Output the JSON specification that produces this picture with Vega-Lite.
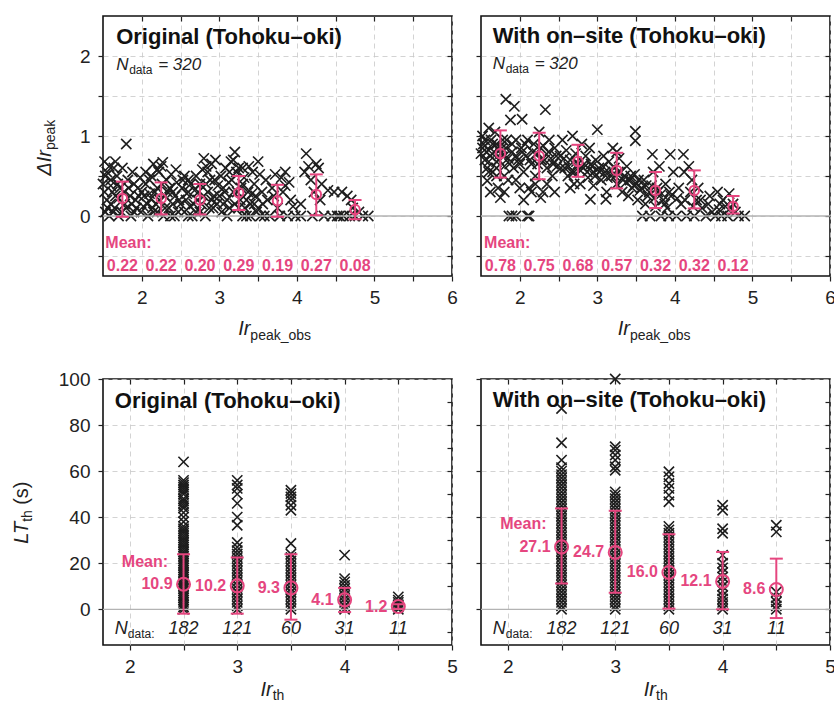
{
"$schema": "https://vega.github.io/schema/vega-lite/v6.json",
"padding": {"left": 11, "top": 14, "right": 0, "bottom": 0},
"bounds": "flush",
"columns": 2,
"spacing": {"row": 103, "column": 29},
"datasets": {
"tl_pts": [
{"x":1.52,"y":0.68},{"x":1.55,"y":0.55},{"x":1.58,"y":0.62},{"x":1.6,"y":0.45},{"x":1.62,"y":0.3},{"x":1.55,"y":0.2},{"x":1.65,"y":0.1},{"x":1.53,"y":0.05},{"x":1.58,"y":0.0},{"x":1.7,"y":0.0},{"x":1.68,"y":0.5},{"x":1.72,"y":0.35},{"x":1.75,"y":0.6},{"x":1.8,"y":0.9},{"x":1.82,"y":0.45},{"x":1.85,"y":0.25},{"x":1.78,"y":0.15},{"x":1.88,"y":0.55},{"x":1.9,"y":0.05},{"x":1.95,"y":0.35},{"x":1.92,"y":0.2},{"x":1.98,"y":0.48},{"x":1.6,"y":0.38},{"x":1.7,"y":0.22},{"x":1.86,"y":0.0},{"x":1.52,"y":0.3},{"x":1.64,"y":0.6},
{"x":2.02,"y":0.12},{"x":2.05,"y":0.4},{"x":2.08,"y":0.0},{"x":2.1,"y":0.28},{"x":2.12,"y":0.5},{"x":2.15,"y":0.65},{"x":2.18,"y":0.15},{"x":2.2,"y":0.35},{"x":2.22,"y":0.55},{"x":2.25,"y":0.62},{"x":2.28,"y":0.0},{"x":2.3,"y":0.25},{"x":2.32,"y":0.45},{"x":2.35,"y":0.1},{"x":2.38,"y":0.52},{"x":2.4,"y":0.3},{"x":2.42,"y":0.0},{"x":2.45,"y":0.42},{"x":2.48,"y":0.2},{"x":2.05,"y":0.55},{"x":2.27,"y":0.67},{"x":2.15,"y":0.05},{"x":2.36,"y":0.35},{"x":2.44,"y":0.58},{"x":2.12,"y":0.22},
{"x":2.52,"y":0.35},{"x":2.55,"y":0.05},{"x":2.58,"y":0.28},{"x":2.6,"y":0.45},{"x":2.62,"y":0.12},{"x":2.65,"y":0.0},{"x":2.68,"y":0.32},{"x":2.7,"y":0.5},{"x":2.72,"y":0.2},{"x":2.75,"y":0.4},{"x":2.78,"y":0.58},{"x":2.8,"y":0.72},{"x":2.82,"y":0.0},{"x":2.85,"y":0.3},{"x":2.88,"y":0.45},{"x":2.9,"y":0.65},{"x":2.92,"y":0.1},{"x":2.95,"y":0.7},{"x":2.98,"y":0.38},{"x":2.6,"y":0.0},{"x":2.75,"y":0.05},{"x":2.55,"y":0.5},{"x":2.85,"y":0.55},{"x":2.93,"y":0.25},
{"x":3.02,"y":0.5},{"x":3.05,"y":0.15},{"x":3.08,"y":0.6},{"x":3.1,"y":0.0},{"x":3.12,"y":0.42},{"x":3.15,"y":0.68},{"x":3.18,"y":0.3},{"x":3.2,"y":0.8},{"x":3.22,"y":0.55},{"x":3.25,"y":0.1},{"x":3.28,"y":0.35},{"x":3.3,"y":0.0},{"x":3.32,"y":0.48},{"x":3.35,"y":0.2},{"x":3.38,"y":0.62},{"x":3.4,"y":0.0},{"x":3.42,"y":0.28},{"x":3.45,"y":0.4},{"x":3.48,"y":0.05},{"x":3.5,"y":0.68},{"x":3.52,"y":0.52},{"x":3.55,"y":0.3},{"x":3.18,"y":0.7},{"x":3.25,"y":0.6},{"x":3.35,"y":0.0},{"x":3.45,"y":0.15},{"x":3.05,"y":0.35},
{"x":3.58,"y":0.0},{"x":3.6,"y":0.45},{"x":3.62,"y":0.2},{"x":3.65,"y":0.0},{"x":3.68,"y":0.35},{"x":3.72,"y":0.52},{"x":3.75,"y":0.1},{"x":3.78,"y":0.0},{"x":3.8,"y":0.48},{"x":3.82,"y":0.3},{"x":3.85,"y":0.55},{"x":3.88,"y":0.0},{"x":3.9,"y":0.42},{"x":3.92,"y":0.2},{"x":3.95,"y":0.12},{"x":3.98,"y":0.0},{"x":3.7,"y":0.25},{"x":3.85,"y":0.38},
{"x":4.05,"y":0.0},{"x":4.1,"y":0.55},{"x":4.12,"y":0.78},{"x":4.15,"y":0.62},{"x":4.18,"y":0.45},{"x":4.2,"y":0.0},{"x":4.22,"y":0.3},{"x":4.25,"y":0.65},{"x":4.28,"y":0.6},{"x":4.3,"y":0.2},{"x":4.32,"y":0.4},{"x":4.35,"y":0.0},{"x":4.4,"y":0.32},{"x":4.45,"y":0.0},{"x":4.48,"y":0.3},{"x":4.05,"y":0.15},
{"x":4.52,"y":0.0},{"x":4.55,"y":0.0},{"x":4.58,"y":0.3},{"x":4.6,"y":0.0},{"x":4.65,"y":0.25},{"x":4.68,"y":0.0},{"x":4.72,"y":0.1},{"x":4.75,"y":0.0},{"x":4.8,"y":0.05},{"x":4.85,"y":0.0},{"x":4.92,"y":0.0},{"x":4.7,"y":0.2},
{"x":1.5,"y":0.4},{"x":1.56,"y":0.1},{"x":1.6,"y":0.15},{"x":1.63,"y":0.05},{"x":1.66,"y":0.25},{"x":1.69,"y":0.4},{"x":1.74,"y":0.05},{"x":1.77,"y":0.3},{"x":1.8,"y":0.1},{"x":1.83,"y":0.35},{"x":1.87,"y":0.15},{"x":1.9,"y":0.4},{"x":1.93,"y":0.1},{"x":1.96,"y":0.25},{"x":1.99,"y":0.05},{"x":2.0,"y":0.3},{"x":2.03,"y":0.25},{"x":2.07,"y":0.15},{"x":2.1,"y":0.45},{"x":2.14,"y":0.1},{"x":2.17,"y":0.3},{"x":2.2,"y":0.05},{"x":2.23,"y":0.2},{"x":2.26,"y":0.4},{"x":2.3,"y":0.1},{"x":2.33,"y":0.3},{"x":2.37,"y":0.0},{"x":2.4,"y":0.15},{"x":2.43,"y":0.25},{"x":2.47,"y":0.05},{"x":2.5,"y":0.15},{"x":2.53,"y":0.45},{"x":2.57,"y":0.2},{"x":2.6,"y":0.3},{"x":2.63,"y":0.4},{"x":2.67,"y":0.15},{"x":2.7,"y":0.05},{"x":2.73,"y":0.3},{"x":2.77,"y":0.15},{"x":2.8,"y":0.25},{"x":2.83,"y":0.4},{"x":2.87,"y":0.1},{"x":2.9,"y":0.2},{"x":2.94,"y":0.45},{"x":2.97,"y":0.15},{"x":3.0,"y":0.25},{"x":3.03,"y":0.05},{"x":3.07,"y":0.3},{"x":3.1,"y":0.2},{"x":3.13,"y":0.1},{"x":3.16,"y":0.45},{"x":3.2,"y":0.15},{"x":3.23,"y":0.3},{"x":3.27,"y":0.2},{"x":3.3,"y":0.4},{"x":3.33,"y":0.1},{"x":3.37,"y":0.3},{"x":3.4,"y":0.15},{"x":3.43,"y":0.55},{"x":3.47,"y":0.25},{"x":3.5,"y":0.1},{"x":3.53,"y":0.0},{"x":3.56,"y":0.15},{"x":3.3,"y":0.6},{"x":3.13,"y":0.55},{"x":2.83,"y":0.62},{"x":2.2,"y":0.58},{"x":1.53,"y":0.5},{"x":1.66,"y":0.68}
],
"tr_pts": [
{"x":1.52,"y":1.0},{"x":1.52,"y":0.85},{"x":1.55,"y":0.7},{"x":1.55,"y":0.95},{"x":1.58,"y":0.6},{"x":1.58,"y":0.44},{"x":1.6,"y":0.82},{"x":1.6,"y":1.1},{"x":1.62,"y":0.75},{"x":1.65,"y":0.9},{"x":1.65,"y":0.55},{"x":1.68,"y":1.05},{"x":1.7,"y":0.68},{"x":1.72,"y":0.85},{"x":1.72,"y":0.35},{"x":1.75,"y":0.23},{"x":1.75,"y":0.78},{"x":1.78,"y":0.95},{"x":1.8,"y":0.62},{"x":1.82,"y":1.46},{"x":1.82,"y":0.85},{"x":1.85,"y":0.72},{"x":1.85,"y":0.45},{"x":1.88,"y":1.2},{"x":1.9,"y":0.8},{"x":1.9,"y":0.0},{"x":1.92,"y":0.6},{"x":1.93,"y":1.37},{"x":1.95,"y":0.95},{"x":1.95,"y":0.0},{"x":1.98,"y":0.7},{"x":1.86,"y":0.0},{"x":1.7,"y":0.5},{"x":1.62,"y":0.3},{"x":1.8,"y":0.3},
{"x":2.02,"y":0.85},{"x":2.03,"y":1.21},{"x":2.05,"y":0.55},{"x":2.08,"y":0.75},{"x":2.1,"y":0.0},{"x":2.1,"y":0.95},{"x":2.12,"y":0.35},{"x":2.12,"y":0.0},{"x":2.15,"y":0.65},{"x":2.18,"y":0.9},{"x":2.2,"y":0.5},{"x":2.22,"y":0.78},{"x":2.25,"y":1.05},{"x":2.27,"y":0.23},{"x":2.28,"y":0.7},{"x":2.3,"y":0.88},{"x":2.33,"y":1.33},{"x":2.35,"y":0.6},{"x":2.38,"y":0.95},{"x":2.4,"y":0.72},{"x":2.42,"y":0.5},{"x":2.45,"y":0.85},{"x":2.48,"y":0.62},{"x":2.15,"y":0.3},{"x":2.05,"y":0.2},{"x":2.35,"y":0.4},
{"x":2.52,"y":0.75},{"x":2.55,"y":0.95},{"x":2.58,"y":0.6},{"x":2.6,"y":0.82},{"x":2.62,"y":0.5},{"x":2.65,"y":0.7},{"x":2.68,"y":1.0},{"x":2.7,"y":0.55},{"x":2.72,"y":0.78},{"x":2.75,"y":0.65},{"x":2.78,"y":0.4},{"x":2.8,"y":0.9},{"x":2.82,"y":0.6},{"x":2.85,"y":0.75},{"x":2.88,"y":0.48},{"x":2.9,"y":0.85},{"x":2.91,"y":0.21},{"x":2.92,"y":0.65},{"x":2.95,"y":0.55},{"x":2.98,"y":0.7},{"x":3.0,"y":1.08},{"x":2.65,"y":0.35},{"x":2.7,"y":0.4},{"x":2.95,"y":0.38},
{"x":3.02,"y":0.6},{"x":3.05,"y":0.45},{"x":3.08,"y":0.75},{"x":3.1,"y":0.55},{"x":3.11,"y":0.21},{"x":3.12,"y":0.3},{"x":3.15,"y":0.68},{"x":3.18,"y":0.5},{"x":3.2,"y":0.85},{"x":3.22,"y":0.6},{"x":3.25,"y":0.4},{"x":3.28,"y":0.72},{"x":3.3,"y":0.55},{"x":3.32,"y":0.3},{"x":3.35,"y":0.5},{"x":3.38,"y":0.62},{"x":3.4,"y":0.25},{"x":3.42,"y":0.45},{"x":3.45,"y":0.35},{"x":3.48,"y":0.52},{"x":3.49,"y":1.06},{"x":3.49,"y":0.94},{"x":3.5,"y":0.4},{"x":3.25,"y":0.8},
{"x":3.52,"y":0.2},{"x":3.55,"y":0.32},{"x":3.58,"y":0.0},{"x":3.6,"y":0.45},{"x":3.62,"y":0.15},{"x":3.65,"y":0.25},{"x":3.68,"y":0.0},{"x":3.7,"y":0.38},{"x":3.71,"y":0.77},{"x":3.72,"y":0.55},{"x":3.75,"y":0.12},{"x":3.78,"y":0.3},{"x":3.8,"y":0.62},{"x":3.82,"y":0.0},{"x":3.85,"y":0.2},{"x":3.88,"y":0.4},{"x":3.9,"y":0.1},{"x":3.92,"y":0.0},{"x":3.94,"y":0.77},{"x":3.95,"y":0.25},{"x":3.98,"y":0.55},
{"x":4.02,"y":0.0},{"x":4.05,"y":0.35},{"x":4.08,"y":0.15},{"x":4.11,"y":0.77},{"x":4.12,"y":0.55},{"x":4.15,"y":0.0},{"x":4.18,"y":0.62},{"x":4.2,"y":0.3},{"x":4.22,"y":0.45},{"x":4.25,"y":0.0},{"x":4.28,"y":0.2},{"x":4.3,"y":0.35},{"x":4.35,"y":0.1},{"x":4.4,"y":0.0},{"x":4.45,"y":0.25},{"x":4.48,"y":0.05},
{"x":4.52,"y":0.0},{"x":4.55,"y":0.3},{"x":4.58,"y":0.15},{"x":4.6,"y":0.0},{"x":4.62,"y":0.2},{"x":4.68,"y":0.0},{"x":4.7,"y":0.28},{"x":4.72,"y":0.1},{"x":4.78,"y":0.05},{"x":4.82,"y":0.0},{"x":4.9,"y":0.0},{"x":4.65,"y":0.12},
{"x":1.5,"y":0.78},{"x":1.53,"y":0.9},{"x":1.57,"y":0.8},{"x":1.6,"y":0.68},{"x":1.63,"y":0.95},{"x":1.67,"y":0.8},{"x":1.7,"y":0.9},{"x":1.73,"y":0.7},{"x":1.77,"y":0.85},{"x":1.8,"y":0.75},{"x":1.83,"y":0.95},{"x":1.87,"y":0.65},{"x":1.9,"y":0.9},{"x":1.95,"y":0.75},{"x":2.0,"y":0.65},{"x":2.03,"y":0.8},{"x":2.07,"y":0.9},{"x":2.13,"y":0.7},{"x":2.17,"y":0.8},{"x":2.23,"y":0.65},{"x":2.27,"y":0.85},{"x":2.32,"y":0.7},{"x":2.37,"y":0.8},{"x":2.43,"y":0.65},{"x":2.47,"y":0.75},{"x":2.53,"y":0.6},{"x":2.57,"y":0.72},{"x":2.63,"y":0.62},{"x":2.67,"y":0.55},{"x":2.73,"y":0.68},{"x":2.77,"y":0.58},{"x":2.83,"y":0.65},{"x":2.87,"y":0.55},{"x":2.93,"y":0.62},{"x":2.97,"y":0.5},{"x":3.03,"y":0.55},{"x":3.07,"y":0.62},{"x":3.13,"y":0.48},{"x":3.17,"y":0.58},{"x":3.23,"y":0.5},{"x":3.27,"y":0.55},{"x":3.33,"y":0.45},{"x":3.37,"y":0.42},{"x":3.43,"y":0.5},{"x":3.47,"y":0.38},{"x":3.53,"y":0.45},{"x":3.57,"y":0.35},{"x":3.63,"y":0.38},{"x":3.67,"y":0.3},{"x":3.73,"y":0.22},{"x":3.77,"y":0.35},{"x":3.83,"y":0.28},{"x":3.87,"y":0.15},{"x":3.93,"y":0.3},{"x":4.03,"y":0.22},{"x":4.13,"y":0.2},{"x":4.23,"y":0.12},{"x":4.33,"y":0.2},{"x":4.43,"y":0.15},{"x":4.57,"y":0.08},{"x":4.75,"y":0.15},
{"x":1.6,"y":0.55},{"x":1.7,"y":0.6},{"x":1.8,"y":0.5},{"x":1.95,"y":0.45},{"x":2.0,"y":0.35},{"x":2.2,"y":0.4},{"x":2.3,"y":0.3},{"x":2.45,"y":0.3}
],
"bl_pts": [
{"x":2.5,"y":0},{"x":2.5,"y":1},{"x":2.5,"y":2},{"x":2.5,"y":3},{"x":2.5,"y":4},{"x":2.5,"y":5},{"x":2.5,"y":6},{"x":2.5,"y":7},{"x":2.5,"y":8},{"x":2.5,"y":9},{"x":2.5,"y":10},{"x":2.5,"y":11},{"x":2.5,"y":12},{"x":2.5,"y":13},{"x":2.5,"y":14},{"x":2.5,"y":15},{"x":2.5,"y":16},{"x":2.5,"y":17},{"x":2.5,"y":18},{"x":2.5,"y":19},{"x":2.5,"y":20},{"x":2.5,"y":21},{"x":2.5,"y":22},{"x":2.5,"y":23},{"x":2.5,"y":24},{"x":2.5,"y":25},{"x":2.5,"y":26},{"x":2.5,"y":27},{"x":2.5,"y":28},{"x":2.5,"y":29},{"x":2.5,"y":30},{"x":2.5,"y":31},{"x":2.5,"y":32},{"x":2.5,"y":33},{"x":2.5,"y":34},{"x":2.5,"y":35},{"x":2.5,"y":36},{"x":2.5,"y":38},{"x":2.5,"y":40},{"x":2.5,"y":42},{"x":2.5,"y":44},{"x":2.5,"y":45},{"x":2.5,"y":46},{"x":2.5,"y":47},{"x":2.5,"y":48},{"x":2.5,"y":50},{"x":2.5,"y":51},{"x":2.5,"y":52},{"x":2.5,"y":53},{"x":2.5,"y":54},{"x":2.5,"y":55},{"x":2.5,"y":56},{"x":2.5,"y":64},
{"x":3,"y":0},{"x":3,"y":1.5},{"x":3,"y":3},{"x":3,"y":4.5},{"x":3,"y":6},{"x":3,"y":7.5},{"x":3,"y":9},{"x":3,"y":10.5},{"x":3,"y":12},{"x":3,"y":13.5},{"x":3,"y":15},{"x":3,"y":16.5},{"x":3,"y":18},{"x":3,"y":19.5},{"x":3,"y":21},{"x":3,"y":22.5},{"x":3,"y":24},{"x":3,"y":25.5},{"x":3,"y":27},{"x":3,"y":29},{"x":3,"y":36.5},{"x":3,"y":40},{"x":3,"y":46},{"x":3,"y":50},{"x":3,"y":52.5},{"x":3,"y":54},{"x":3,"y":56},
{"x":3.5,"y":0},{"x":3.5,"y":1.5},{"x":3.5,"y":3},{"x":3.5,"y":4.5},{"x":3.5,"y":6},{"x":3.5,"y":7.5},{"x":3.5,"y":9},{"x":3.5,"y":10.5},{"x":3.5,"y":12},{"x":3.5,"y":13.5},{"x":3.5,"y":15},{"x":3.5,"y":16.5},{"x":3.5,"y":18},{"x":3.5,"y":19.5},{"x":3.5,"y":21},{"x":3.5,"y":22.5},{"x":3.5,"y":24},{"x":3.5,"y":28.6},{"x":3.5,"y":43},{"x":3.5,"y":45.2},{"x":3.5,"y":47.4},{"x":3.5,"y":48.8},{"x":3.5,"y":50.3},{"x":3.5,"y":51.7},
{"x":4,"y":0},{"x":4,"y":1.5},{"x":4,"y":3},{"x":4,"y":4.5},{"x":4,"y":6},{"x":4,"y":7.5},{"x":4,"y":9},{"x":4,"y":10.4},{"x":4,"y":11.9},{"x":4,"y":13.3},{"x":4,"y":23.5},
{"x":4.5,"y":0},{"x":4.5,"y":1},{"x":4.5,"y":2},{"x":4.5,"y":3},{"x":4.5,"y":4},{"x":4.5,"y":5.4}
],
"br_pts": [
{"x":2.5,"y":0},{"x":2.5,"y":1.5},{"x":2.5,"y":3},{"x":2.5,"y":4.5},{"x":2.5,"y":6},{"x":2.5,"y":7.5},{"x":2.5,"y":9},{"x":2.5,"y":10.5},{"x":2.5,"y":12},{"x":2.5,"y":13.5},{"x":2.5,"y":15},{"x":2.5,"y":16.5},{"x":2.5,"y":18},{"x":2.5,"y":19.5},{"x":2.5,"y":21},{"x":2.5,"y":22.5},{"x":2.5,"y":24},{"x":2.5,"y":25.5},{"x":2.5,"y":27},{"x":2.5,"y":28.5},{"x":2.5,"y":30},{"x":2.5,"y":31.5},{"x":2.5,"y":33},{"x":2.5,"y":34.5},{"x":2.5,"y":36},{"x":2.5,"y":37.5},{"x":2.5,"y":39},{"x":2.5,"y":40.5},{"x":2.5,"y":42},{"x":2.5,"y":43.5},{"x":2.5,"y":45},{"x":2.5,"y":46.5},{"x":2.5,"y":48},{"x":2.5,"y":49.5},{"x":2.5,"y":51},{"x":2.5,"y":52.5},{"x":2.5,"y":54},{"x":2.5,"y":55.5},{"x":2.5,"y":57},{"x":2.5,"y":58.5},{"x":2.5,"y":60},{"x":2.5,"y":61.5},{"x":2.5,"y":64.8},{"x":2.5,"y":72.3},{"x":2.5,"y":87.2},
{"x":3,"y":0},{"x":3,"y":1.5},{"x":3,"y":3},{"x":3,"y":4.5},{"x":3,"y":6},{"x":3,"y":7.5},{"x":3,"y":9},{"x":3,"y":10.5},{"x":3,"y":12},{"x":3,"y":13.5},{"x":3,"y":15},{"x":3,"y":16.5},{"x":3,"y":18},{"x":3,"y":19.5},{"x":3,"y":21},{"x":3,"y":22.5},{"x":3,"y":24},{"x":3,"y":25.5},{"x":3,"y":27},{"x":3,"y":28.5},{"x":3,"y":30},{"x":3,"y":31.5},{"x":3,"y":33},{"x":3,"y":34.5},{"x":3,"y":36},{"x":3,"y":37.5},{"x":3,"y":39},{"x":3,"y":40.5},{"x":3,"y":42},{"x":3,"y":43.5},{"x":3,"y":45},{"x":3,"y":46.5},{"x":3,"y":48},{"x":3,"y":49.5},{"x":3,"y":51},{"x":3,"y":60.4},{"x":3,"y":61.9},{"x":3,"y":64.8},{"x":3,"y":67},{"x":3,"y":69.1},{"x":3,"y":70.6},{"x":3,"y":100},
{"x":3.5,"y":0},{"x":3.5,"y":1.5},{"x":3.5,"y":3},{"x":3.5,"y":4.5},{"x":3.5,"y":6},{"x":3.5,"y":7.5},{"x":3.5,"y":9},{"x":3.5,"y":10.5},{"x":3.5,"y":12},{"x":3.5,"y":13.5},{"x":3.5,"y":15},{"x":3.5,"y":16.5},{"x":3.5,"y":18},{"x":3.5,"y":19.5},{"x":3.5,"y":21},{"x":3.5,"y":22.5},{"x":3.5,"y":24},{"x":3.5,"y":25.5},{"x":3.5,"y":27},{"x":3.5,"y":28.5},{"x":3.5,"y":30},{"x":3.5,"y":31.5},{"x":3.5,"y":33},{"x":3.5,"y":34.5},{"x":3.5,"y":36},{"x":3.5,"y":46.7},{"x":3.5,"y":49.6},{"x":3.5,"y":52.5},{"x":3.5,"y":54.6},{"x":3.5,"y":57.5},{"x":3.5,"y":59.7},
{"x":4,"y":0},{"x":4,"y":1.5},{"x":4,"y":3},{"x":4,"y":4.5},{"x":4,"y":6},{"x":4,"y":8},{"x":4,"y":10},{"x":4,"y":12},{"x":4,"y":14},{"x":4,"y":16},{"x":4,"y":18},{"x":4,"y":20},{"x":4,"y":23.5},{"x":4,"y":33},{"x":4,"y":35},{"x":4,"y":43},{"x":4,"y":45.2},
{"x":4.5,"y":0},{"x":4.5,"y":1.5},{"x":4.5,"y":3.2},{"x":4.5,"y":5},{"x":4.5,"y":7.5},{"x":4.5,"y":33.6},{"x":4.5,"y":36.5}
],
"tl_m": [{"x":1.75,"m":0.22,"lo":-0.01,"hi":0.43},{"x":2.25,"m":0.22,"lo":0.02,"hi":0.42},{"x":2.75,"m":0.20,"lo":0.02,"hi":0.40},{"x":3.25,"m":0.29,"lo":0.075,"hi":0.50},{"x":3.75,"m":0.19,"lo":-0.01,"hi":0.39},{"x":4.25,"m":0.27,"lo":0.01,"hi":0.52},{"x":4.75,"m":0.08,"lo":-0.04,"hi":0.20}],
"tr_m": [{"x":1.75,"m":0.78,"lo":0.48,"hi":1.07},{"x":2.25,"m":0.75,"lo":0.46,"hi":1.04},{"x":2.75,"m":0.68,"lo":0.49,"hi":0.89},{"x":3.25,"m":0.57,"lo":0.345,"hi":0.79},{"x":3.75,"m":0.32,"lo":0.10,"hi":0.55},{"x":4.25,"m":0.32,"lo":0.095,"hi":0.57},{"x":4.75,"m":0.12,"lo":0.03,"hi":0.25}],
"bl_m": [{"x":2.5,"m":10.9,"lo":-1.9,"hi":23.9,"n":182},{"x":3,"m":10.2,"lo":-1.9,"hi":22.5,"n":121},{"x":3.5,"m":9.3,"lo":-4.5,"hi":23.9,"n":60},{"x":4,"m":4.1,"lo":-1.2,"hi":9.3,"n":31},{"x":4.5,"m":1.2,"lo":0.2,"hi":2.2,"n":11}],
"br_m": [{"x":2.5,"m":27.1,"lo":11.2,"hi":43.8,"n":182},{"x":3,"m":24.7,"lo":7.2,"hi":42.8,"n":121},{"x":3.5,"m":16.0,"lo":0.3,"hi":32.6,"n":60},{"x":4,"m":12.1,"lo":0,"hi":24.9,"n":31},{"x":4.5,"m":8.6,"lo":-3.8,"hi":22,"n":11}]
},
"concat": [
{
"width": 349, "height": 260,
"resolve": {"axis": {"x": "independent", "y": "independent"}},
"layer": [
{"data":{"name":"tl_pts"},"mark":{"type":"point","shape":"M-1,-1L1,1M-1,1L1,-1","size":105,"filled":false,"stroke":"#1e1e1e","strokeWidth":1.6,"opacity":1},
 "encoding":{"x":{"field":"x","type":"quantitative","scale":{"domain":[1.5,6],"nice":false,"zero":false},"axis":{"values":[2,2.5,3,3.5,4,4.5,5,5.5,6],"labelExpr":"datum.value % 1 === 0 ? format(datum.value, 'd') : ''","title":null}},
 "y":{"field":"y","type":"quantitative","scale":{"domain":[-0.75,2.5],"nice":false,"zero":false},"axis":{"values":[-0.5,0,0.5,1,1.5,2],"labelExpr":"datum.value % 1 === 0 ? format(datum.value, 'd') : ''","title":null}}}},
{"data":{"values":[{"y":0}]},"mark":{"type":"rule","color":"#b3b3b3","strokeWidth":1.3},"encoding":{"y":{"field":"y","type":"quantitative","axis":{"orient":"right","values":[-0.5,0,0.5,1,1.5,2],"labels":false,"grid":false,"offset":-5,"title":null}}}},
{"data":{"name":"tl_m"},"mark":{"type":"rule","color":"#E5467F","strokeWidth":2},"encoding":{"x":{"field":"x","type":"quantitative","axis":{"orient":"top","values":[2,2.5,3,3.5,4,4.5,5,5.5],"labels":false,"grid":false,"offset":-5,"title":null}},"y":{"field":"lo","type":"quantitative","axis":null},"y2":{"field":"hi"}}},
{"data":{"name":"tl_m"},"mark":{"type":"tick","orient":"horizontal","color":"#E5467F","size":13,"thickness":2,"opacity":1},"encoding":{"x":{"field":"x","type":"quantitative","axis":null},"y":{"field":"lo","type":"quantitative","axis":null}}},
{"data":{"name":"tl_m"},"mark":{"type":"tick","orient":"horizontal","color":"#E5467F","size":13,"thickness":2,"opacity":1},"encoding":{"x":{"field":"x","type":"quantitative","axis":null},"y":{"field":"hi","type":"quantitative","axis":null}}},
{"data":{"name":"tl_m"},"mark":{"type":"point","shape":"circle","size":90,"filled":false,"stroke":"#E5467F","strokeWidth":2,"opacity":1},"encoding":{"x":{"field":"x","type":"quantitative","axis":null},"y":{"field":"m","type":"quantitative","axis":null}}},
{"data":{"name":"tl_m"},"mark":{"type":"text","align":"center","baseline":"alphabetic","fontSize":16,"fontWeight":"bold","color":"#E5467F"},"encoding":{"x":{"field":"x","type":"quantitative","axis":null},"y":{"datum":-0.69,"type":"quantitative","axis":null},"text":{"field":"m","format":".2f"}}},
{"data":{"values":[{"t":"Mean:"}]},"mark":{"type":"text","align":"left","baseline":"alphabetic","fontSize":16,"fontWeight":"bold","color":"#E5467F"},"encoding":{"x":{"datum":1.53,"type":"quantitative","axis":null},"y":{"datum":-0.40,"type":"quantitative","axis":null},"text":{"field":"t"}}},
{"data":{"values":[{"t":"Original (Tohoku–oki)"}]},"mark":{"type":"text","align":"left","baseline":"alphabetic","fontSize":22,"fontWeight":"bold","color":"#111"},"encoding":{"x":{"datum":1.67,"type":"quantitative","axis":null},"y":{"datum":2.154,"type":"quantitative","axis":null},"text":{"field":"t"}}},
{"data":{"values":[{"t":"N"}]},"mark":{"type":"text","align":"left","baseline":"alphabetic","fontSize":17,"fontStyle":"italic","color":"#222"},"encoding":{"x":{"datum":1.67,"type":"quantitative","axis":null},"y":{"datum":1.83,"type":"quantitative","axis":null},"text":{"field":"t"}}},
{"data":{"values":[{"t":"data"}]},"mark":{"type":"text","align":"left","baseline":"alphabetic","fontSize":12,"dx":13,"dy":4,"color":"#222"},"encoding":{"x":{"datum":1.67,"type":"quantitative","axis":null},"y":{"datum":1.83,"type":"quantitative","axis":null},"text":{"field":"t"}}},
{"data":{"values":[{"t":"= 320"}]},"mark":{"type":"text","align":"left","baseline":"alphabetic","fontSize":17,"fontStyle":"italic","dx":42,"color":"#222"},"encoding":{"x":{"datum":1.67,"type":"quantitative","axis":null},"y":{"datum":1.83,"type":"quantitative","axis":null},"text":{"field":"t"}}},
{"data":{"values":[{"t":"Ir"}]},"mark":{"type":"text","align":"right","baseline":"alphabetic","fontSize":20,"fontStyle":"italic","color":"#222"},"encoding":{"x":{"datum":3.40,"type":"quantitative","axis":null},"y":{"datum":-1.49,"type":"quantitative","axis":null},"text":{"field":"t"}}},
{"data":{"values":[{"t":"peak_obs"}]},"mark":{"type":"text","align":"left","baseline":"alphabetic","fontSize":14,"dy":5,"color":"#222"},"encoding":{"x":{"datum":3.40,"type":"quantitative","axis":null},"y":{"datum":-1.49,"type":"quantitative","axis":null},"text":{"field":"t"}}},
{"data":{"values":[{"t":"ΔIr"}]},"mark":{"type":"text","angle":270,"align":"right","baseline":"alphabetic","fontSize":20,"fontStyle":"italic","color":"#222"},"encoding":{"x":{"datum":0.83,"type":"quantitative","axis":null},"y":{"datum":0.825,"type":"quantitative","axis":null},"text":{"field":"t"}}},
{"data":{"values":[{"t":"peak"}]},"mark":{"type":"text","angle":270,"align":"left","baseline":"alphabetic","fontSize":14,"dy":4,"color":"#222"},"encoding":{"x":{"datum":0.83,"type":"quantitative","axis":null},"y":{"datum":0.825,"type":"quantitative","axis":null},"text":{"field":"t"}}}
]
},
{
"width": 349, "height": 260,
"resolve": {"axis": {"x": "independent", "y": "independent"}},
"layer": [
{"data":{"name":"tr_pts"},"mark":{"type":"point","shape":"M-1,-1L1,1M-1,1L1,-1","size":105,"filled":false,"stroke":"#1e1e1e","strokeWidth":1.6,"opacity":1},
 "encoding":{"x":{"field":"x","type":"quantitative","scale":{"domain":[1.5,6],"nice":false,"zero":false},"axis":{"values":[2,2.5,3,3.5,4,4.5,5,5.5,6],"labelExpr":"datum.value % 1 === 0 ? format(datum.value, 'd') : ''","title":null}},
 "y":{"field":"y","type":"quantitative","scale":{"domain":[-0.75,2.5],"nice":false,"zero":false},"axis":{"values":[-0.5,0,0.5,1,1.5,2],"labels":false,"title":null}}}},
{"data":{"values":[{"y":0}]},"mark":{"type":"rule","color":"#b3b3b3","strokeWidth":1.3},"encoding":{"y":{"field":"y","type":"quantitative","axis":{"orient":"right","values":[-0.5,0,0.5,1,1.5,2],"labels":false,"grid":false,"offset":-5,"title":null}}}},
{"data":{"name":"tr_m"},"mark":{"type":"rule","color":"#E5467F","strokeWidth":2},"encoding":{"x":{"field":"x","type":"quantitative","axis":{"orient":"top","values":[2,2.5,3,3.5,4,4.5,5,5.5],"labels":false,"grid":false,"offset":-5,"title":null}},"y":{"field":"lo","type":"quantitative","axis":null},"y2":{"field":"hi"}}},
{"data":{"name":"tr_m"},"mark":{"type":"tick","orient":"horizontal","color":"#E5467F","size":13,"thickness":2,"opacity":1},"encoding":{"x":{"field":"x","type":"quantitative","axis":null},"y":{"field":"lo","type":"quantitative","axis":null}}},
{"data":{"name":"tr_m"},"mark":{"type":"tick","orient":"horizontal","color":"#E5467F","size":13,"thickness":2,"opacity":1},"encoding":{"x":{"field":"x","type":"quantitative","axis":null},"y":{"field":"hi","type":"quantitative","axis":null}}},
{"data":{"name":"tr_m"},"mark":{"type":"point","shape":"circle","size":90,"filled":false,"stroke":"#E5467F","strokeWidth":2,"opacity":1},"encoding":{"x":{"field":"x","type":"quantitative","axis":null},"y":{"field":"m","type":"quantitative","axis":null}}},
{"data":{"name":"tr_m"},"mark":{"type":"text","align":"center","baseline":"alphabetic","fontSize":16,"fontWeight":"bold","color":"#E5467F"},"encoding":{"x":{"field":"x","type":"quantitative","axis":null},"y":{"datum":-0.69,"type":"quantitative","axis":null},"text":{"field":"m","format":".2f"}}},
{"data":{"values":[{"t":"Mean:"}]},"mark":{"type":"text","align":"left","baseline":"alphabetic","fontSize":16,"fontWeight":"bold","color":"#E5467F"},"encoding":{"x":{"datum":1.54,"type":"quantitative","axis":null},"y":{"datum":-0.40,"type":"quantitative","axis":null},"text":{"field":"t"}}},
{"data":{"values":[{"t":"With on–site (Tohoku–oki)"}]},"mark":{"type":"text","align":"left","baseline":"alphabetic","fontSize":22,"fontWeight":"bold","color":"#111"},"encoding":{"x":{"datum":1.65,"type":"quantitative","axis":null},"y":{"datum":2.165,"type":"quantitative","axis":null},"text":{"field":"t"}}},
{"data":{"values":[{"t":"N"}]},"mark":{"type":"text","align":"left","baseline":"alphabetic","fontSize":17,"fontStyle":"italic","color":"#222"},"encoding":{"x":{"datum":1.65,"type":"quantitative","axis":null},"y":{"datum":1.84,"type":"quantitative","axis":null},"text":{"field":"t"}}},
{"data":{"values":[{"t":"data"}]},"mark":{"type":"text","align":"left","baseline":"alphabetic","fontSize":12,"dx":13,"dy":4,"color":"#222"},"encoding":{"x":{"datum":1.65,"type":"quantitative","axis":null},"y":{"datum":1.84,"type":"quantitative","axis":null},"text":{"field":"t"}}},
{"data":{"values":[{"t":"= 320"}]},"mark":{"type":"text","align":"left","baseline":"alphabetic","fontSize":17,"fontStyle":"italic","dx":42,"color":"#222"},"encoding":{"x":{"datum":1.65,"type":"quantitative","axis":null},"y":{"datum":1.84,"type":"quantitative","axis":null},"text":{"field":"t"}}},
{"data":{"values":[{"t":"Ir"}]},"mark":{"type":"text","align":"right","baseline":"alphabetic","fontSize":20,"fontStyle":"italic","color":"#222"},"encoding":{"x":{"datum":3.42,"type":"quantitative","axis":null},"y":{"datum":-1.49,"type":"quantitative","axis":null},"text":{"field":"t"}}},
{"data":{"values":[{"t":"peak_obs"}]},"mark":{"type":"text","align":"left","baseline":"alphabetic","fontSize":14,"dy":5,"color":"#222"},"encoding":{"x":{"datum":3.42,"type":"quantitative","axis":null},"y":{"datum":-1.49,"type":"quantitative","axis":null},"text":{"field":"t"}}}
]
},
{
"width": 349, "height": 266,
"resolve": {"axis": {"x": "independent", "y": "independent"}},
"layer": [
{"data":{"name":"bl_pts"},"mark":{"type":"point","shape":"M-1,-1L1,1M-1,1L1,-1","size":105,"filled":false,"stroke":"#1e1e1e","strokeWidth":1.6,"opacity":1},
 "encoding":{"x":{"field":"x","type":"quantitative","scale":{"domain":[1.75,5],"nice":false,"zero":false},"axis":{"values":[2,2.5,3,3.5,4,4.5,5],"labelExpr":"datum.value % 1 === 0 ? format(datum.value, 'd') : ''","title":null}},
 "y":{"field":"y","type":"quantitative","scale":{"domain":[-15.5,100],"nice":false,"zero":false},"axis":{"values":[0,20,40,60,80,100],"format":"d","title":null}}}},
{"data":{"values":[{"y":0}]},"mark":{"type":"rule","color":"#b3b3b3","strokeWidth":1.3},"encoding":{"y":{"field":"y","type":"quantitative","axis":{"orient":"right","values":[-10,0,10,20,30,40,50,60,70,80,90],"labels":false,"grid":false,"offset":-5,"title":null}}}},
{"data":{"name":"bl_m"},"mark":{"type":"rule","color":"#E5467F","strokeWidth":2},"encoding":{"x":{"field":"x","type":"quantitative","axis":{"orient":"top","values":[2,2.5,3,3.5,4,4.5],"labels":false,"grid":false,"offset":-5,"title":null}},"y":{"field":"lo","type":"quantitative","axis":null},"y2":{"field":"hi"}}},
{"data":{"name":"bl_m"},"mark":{"type":"tick","orient":"horizontal","color":"#E5467F","size":13,"thickness":2,"opacity":1},"encoding":{"x":{"field":"x","type":"quantitative","axis":null},"y":{"field":"lo","type":"quantitative","axis":null}}},
{"data":{"name":"bl_m"},"mark":{"type":"tick","orient":"horizontal","color":"#E5467F","size":13,"thickness":2,"opacity":1},"encoding":{"x":{"field":"x","type":"quantitative","axis":null},"y":{"field":"hi","type":"quantitative","axis":null}}},
{"data":{"name":"bl_m"},"mark":{"type":"point","shape":"circle","size":170,"filled":false,"stroke":"#E5467F","strokeWidth":2,"opacity":1},"encoding":{"x":{"field":"x","type":"quantitative","axis":null},"y":{"field":"m","type":"quantitative","axis":null}}},
{"data":{"name":"bl_m"},"mark":{"type":"text","align":"right","baseline":"middle","dx":-11,"fontSize":16,"fontWeight":"bold","color":"#E5467F"},"encoding":{"x":{"field":"x","type":"quantitative","axis":null},"y":{"field":"m","type":"quantitative","axis":null},"text":{"field":"m","format":".1f"}}},
{"data":{"name":"bl_m"},"mark":{"type":"text","align":"center","baseline":"alphabetic","fontSize":18,"fontStyle":"italic","color":"#222"},"encoding":{"x":{"field":"x","type":"quantitative","axis":null},"y":{"datum":-10.7,"type":"quantitative","axis":null},"text":{"field":"n"}}},
{"data":{"values":[{"t":"Mean:"}]},"mark":{"type":"text","align":"right","baseline":"alphabetic","fontSize":16,"fontWeight":"bold","color":"#E5467F"},"encoding":{"x":{"datum":2.356,"type":"quantitative","axis":null},"y":{"datum":18.4,"type":"quantitative","axis":null},"text":{"field":"t"}}},
{"data":{"values":[{"t":"Original (Tohoku–oki)"}]},"mark":{"type":"text","align":"left","baseline":"alphabetic","fontSize":22,"fontWeight":"bold","color":"#111"},"encoding":{"x":{"datum":1.86,"type":"quantitative","axis":null},"y":{"datum":87.2,"type":"quantitative","axis":null},"text":{"field":"t"}}},
{"data":{"values":[{"t":"N"}]},"mark":{"type":"text","align":"left","baseline":"alphabetic","fontSize":18,"fontStyle":"italic","color":"#222"},"encoding":{"x":{"datum":1.86,"type":"quantitative","axis":null},"y":{"datum":-10.7,"type":"quantitative","axis":null},"text":{"field":"t"}}},
{"data":{"values":[{"t":"data:"}]},"mark":{"type":"text","align":"left","baseline":"alphabetic","fontSize":12,"dx":13,"dy":4,"color":"#222"},"encoding":{"x":{"datum":1.86,"type":"quantitative","axis":null},"y":{"datum":-10.7,"type":"quantitative","axis":null},"text":{"field":"t"}}},
{"data":{"values":[{"t":"Ir"}]},"mark":{"type":"text","align":"right","baseline":"alphabetic","fontSize":20,"fontStyle":"italic","color":"#222"},"encoding":{"x":{"datum":3.33,"type":"quantitative","axis":null},"y":{"datum":-37.5,"type":"quantitative","axis":null},"text":{"field":"t"}}},
{"data":{"values":[{"t":"th"}]},"mark":{"type":"text","align":"left","baseline":"alphabetic","fontSize":14,"dy":4,"color":"#222"},"encoding":{"x":{"datum":3.33,"type":"quantitative","axis":null},"y":{"datum":-37.5,"type":"quantitative","axis":null},"text":{"field":"t"}}},
{"data":{"values":[{"t":"LT"}]},"mark":{"type":"text","angle":270,"align":"right","baseline":"alphabetic","fontSize":20,"fontStyle":"italic","color":"#222"},"encoding":{"x":{"datum":1.053,"type":"quantitative","axis":null},"y":{"datum":38,"type":"quantitative","axis":null},"text":{"field":"t"}}},
{"data":{"values":[{"t":"th"}]},"mark":{"type":"text","angle":270,"align":"left","baseline":"alphabetic","fontSize":14,"dy":4,"color":"#222"},"encoding":{"x":{"datum":1.053,"type":"quantitative","axis":null},"y":{"datum":38,"type":"quantitative","axis":null},"text":{"field":"t"}}},
{"data":{"values":[{"t":"(s)"}]},"mark":{"type":"text","angle":270,"align":"left","baseline":"alphabetic","fontSize":20,"dx":17,"color":"#222"},"encoding":{"x":{"datum":1.053,"type":"quantitative","axis":null},"y":{"datum":38,"type":"quantitative","axis":null},"text":{"field":"t"}}}
]
},
{
"width": 349, "height": 266,
"resolve": {"axis": {"x": "independent", "y": "independent"}},
"layer": [
{"data":{"name":"br_pts"},"mark":{"type":"point","shape":"M-1,-1L1,1M-1,1L1,-1","size":105,"filled":false,"stroke":"#1e1e1e","strokeWidth":1.6,"opacity":1},
 "encoding":{"x":{"field":"x","type":"quantitative","scale":{"domain":[1.75,5],"nice":false,"zero":false},"axis":{"values":[2,2.5,3,3.5,4,4.5,5],"labelExpr":"datum.value % 1 === 0 ? format(datum.value, 'd') : ''","title":null}},
 "y":{"field":"y","type":"quantitative","scale":{"domain":[-15.5,100],"nice":false,"zero":false},"axis":{"values":[0,20,40,60,80,100],"labels":false,"title":null}}}},
{"data":{"values":[{"y":0}]},"mark":{"type":"rule","color":"#b3b3b3","strokeWidth":1.3},"encoding":{"y":{"field":"y","type":"quantitative","axis":{"orient":"right","values":[-10,0,10,20,30,40,50,60,70,80,90],"labels":false,"grid":false,"offset":-5,"title":null}}}},
{"data":{"name":"br_m"},"mark":{"type":"rule","color":"#E5467F","strokeWidth":2},"encoding":{"x":{"field":"x","type":"quantitative","axis":{"orient":"top","values":[2,2.5,3,3.5,4,4.5],"labels":false,"grid":false,"offset":-5,"title":null}},"y":{"field":"lo","type":"quantitative","axis":null},"y2":{"field":"hi"}}},
{"data":{"name":"br_m"},"mark":{"type":"tick","orient":"horizontal","color":"#E5467F","size":13,"thickness":2,"opacity":1},"encoding":{"x":{"field":"x","type":"quantitative","axis":null},"y":{"field":"lo","type":"quantitative","axis":null}}},
{"data":{"name":"br_m"},"mark":{"type":"tick","orient":"horizontal","color":"#E5467F","size":13,"thickness":2,"opacity":1},"encoding":{"x":{"field":"x","type":"quantitative","axis":null},"y":{"field":"hi","type":"quantitative","axis":null}}},
{"data":{"name":"br_m"},"mark":{"type":"point","shape":"circle","size":170,"filled":false,"stroke":"#E5467F","strokeWidth":2,"opacity":1},"encoding":{"x":{"field":"x","type":"quantitative","axis":null},"y":{"field":"m","type":"quantitative","axis":null}}},
{"data":{"name":"br_m"},"mark":{"type":"text","align":"right","baseline":"middle","dx":-11,"fontSize":16,"fontWeight":"bold","color":"#E5467F"},"encoding":{"x":{"field":"x","type":"quantitative","axis":null},"y":{"field":"m","type":"quantitative","axis":null},"text":{"field":"m","format":".1f"}}},
{"data":{"name":"br_m"},"mark":{"type":"text","align":"center","baseline":"alphabetic","fontSize":18,"fontStyle":"italic","color":"#222"},"encoding":{"x":{"field":"x","type":"quantitative","axis":null},"y":{"datum":-10.6,"type":"quantitative","axis":null},"text":{"field":"n"}}},
{"data":{"values":[{"t":"Mean:"}]},"mark":{"type":"text","align":"right","baseline":"alphabetic","fontSize":16,"fontWeight":"bold","color":"#E5467F"},"encoding":{"x":{"datum":2.36,"type":"quantitative","axis":null},"y":{"datum":35,"type":"quantitative","axis":null},"text":{"field":"t"}}},
{"data":{"values":[{"t":"With on–site (Tohoku–oki)"}]},"mark":{"type":"text","align":"left","baseline":"alphabetic","fontSize":22,"fontWeight":"bold","color":"#111"},"encoding":{"x":{"datum":1.86,"type":"quantitative","axis":null},"y":{"datum":88,"type":"quantitative","axis":null},"text":{"field":"t"}}},
{"data":{"values":[{"t":"N"}]},"mark":{"type":"text","align":"left","baseline":"alphabetic","fontSize":18,"fontStyle":"italic","color":"#222"},"encoding":{"x":{"datum":1.86,"type":"quantitative","axis":null},"y":{"datum":-10.6,"type":"quantitative","axis":null},"text":{"field":"t"}}},
{"data":{"values":[{"t":"data:"}]},"mark":{"type":"text","align":"left","baseline":"alphabetic","fontSize":12,"dx":13,"dy":4,"color":"#222"},"encoding":{"x":{"datum":1.86,"type":"quantitative","axis":null},"y":{"datum":-10.6,"type":"quantitative","axis":null},"text":{"field":"t"}}},
{"data":{"values":[{"t":"Ir"}]},"mark":{"type":"text","align":"right","baseline":"alphabetic","fontSize":20,"fontStyle":"italic","color":"#222"},"encoding":{"x":{"datum":3.38,"type":"quantitative","axis":null},"y":{"datum":-37.5,"type":"quantitative","axis":null},"text":{"field":"t"}}},
{"data":{"values":[{"t":"th"}]},"mark":{"type":"text","align":"left","baseline":"alphabetic","fontSize":14,"dy":4,"color":"#222"},"encoding":{"x":{"datum":3.38,"type":"quantitative","axis":null},"y":{"datum":-37.5,"type":"quantitative","axis":null},"text":{"field":"t"}}}
]
}
],
"config": {
"font": "Liberation Sans",
"view": {"stroke": "#111", "strokeWidth": 1.6},
"axis": {"domain": false, "grid": true, "gridColor": "#c8c8c8", "gridDash": [5, 4], "gridWidth": 0.8, "ticks": true, "tickColor": "#222", "tickSize": 5, "tickWidth": 1.2, "labelFont": "Liberation Sans", "labelFontSize": 19, "labelColor": "#222", "labelPadding": 7, "labelFlush": false, "labelOverlap": false},
"axisY": {"labelPadding": 8},
"text": {"font": "Liberation Sans"}
}
}
